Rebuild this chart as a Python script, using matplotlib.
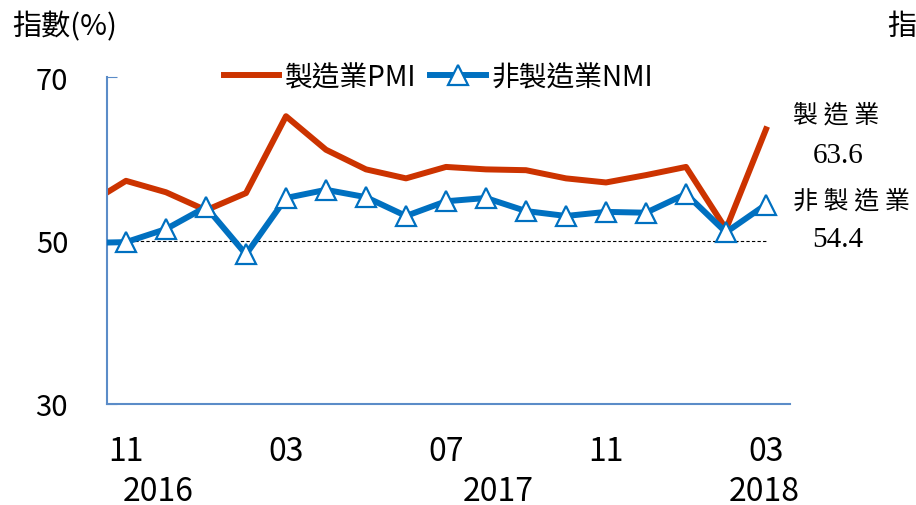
import matplotlib
matplotlib.use("Agg")
import matplotlib.pyplot as plt

plt.rcParams['font.family'] = ['Noto Sans CJK TC', 'DejaVu Sans']

# data: Oct 2016 .. Mar 2018 (first point only shows as the line entering from the left)
x_idx = list(range(-1, 17))
pmi = [54.3, 57.3, 55.9, 53.7, 55.8, 65.2, 61.1, 58.7, 57.6, 59.0, 58.7, 58.6,
       57.6, 57.1, 58.0, 59.0, 51.4, 63.6]
nmi = [49.7, 49.8, 51.4, 54.1, 48.3, 55.2, 56.2, 55.3, 53.0, 54.8, 55.2, 53.6,
       53.0, 53.5, 53.4, 55.7, 51.0, 54.4]
tick_pos = [0, 4, 8, 12, 16]
tick_labels = ['11', '03', '07', '11', '03']
years = ['2016', '2017', '2018']
year_pos = [0.8, 9.3, 15.95]

red = '#CC3300'
blue = '#0070C0'
spine = '#5B8CC8'

fig = plt.figure(figsize=(9.16, 5.06), dpi=100)
ax = fig.add_axes([107/916, 101/506, 683/916, 327/506])

ax.hlines(50, -0.475, 16, colors='black', linestyles=(0, (3, 2)), linewidth=0.8, zorder=1)
ax.plot(x_idx, pmi, color=red, lw=4.3, label='製造業PMI', zorder=2)
ax.plot(x_idx, nmi, color=blue, lw=4.3, marker='^', markersize=15,
        markerfacecolor='white', markeredgecolor=blue, markeredgewidth=1.6,
        label='非製造業NMI', zorder=3)

ax.set_xlim(-0.475, 16.6)
ax.set_ylim(30, 70)
ax.set_yticks([30, 50, 70])
ax.tick_params(axis='y', direction='in', length=7, color=spine, labelsize=21, pad=28)
ax.set_xticks(tick_pos)
ax.set_xticklabels(tick_labels)
ax.tick_params(axis='x', length=0, labelsize=23, pad=22)

for s in ['top', 'right']:
    ax.spines[s].set_visible(False)
for s in ['left', 'bottom']:
    ax.spines[s].set_color(spine)
    ax.spines[s].set_linewidth(1.5)

trans = ax.get_xaxis_transform()
for yr, xp in zip(years, year_pos):
    ax.text(xp, -0.265, yr, transform=trans, ha='center', va='center', fontsize=23)

leg = ax.legend(loc='center', bbox_to_anchor=(0.485, 1.0), ncol=2, frameon=False,
                fontsize=20, handlelength=2.0, handletextpad=0.2, columnspacing=0.5)

fig.text(12/916, 1 - 27/506, '指數(%)', fontsize=21, va='center', ha='left')
fig.text(887/916, 1 - 27/506, '指', fontsize=21, va='center', ha='left')

serif = ['Liberation Serif', 'DejaVu Serif']
fig.text(793/916, 1 - 115/506, '製 造 業', fontsize=18, ha='left', va='center')
fig.text(838/916, 1 - 156/506, '63.6', fontsize=21, ha='center', va='center', family=serif)
fig.text(793/916, 1 - 201/506, '非 製 造 業', fontsize=18, ha='left', va='center')
fig.text(838/916, 1 - 240/506, '54.4', fontsize=21, ha='center', va='center', family=serif)

fig.savefig('out.png', dpi=100)
